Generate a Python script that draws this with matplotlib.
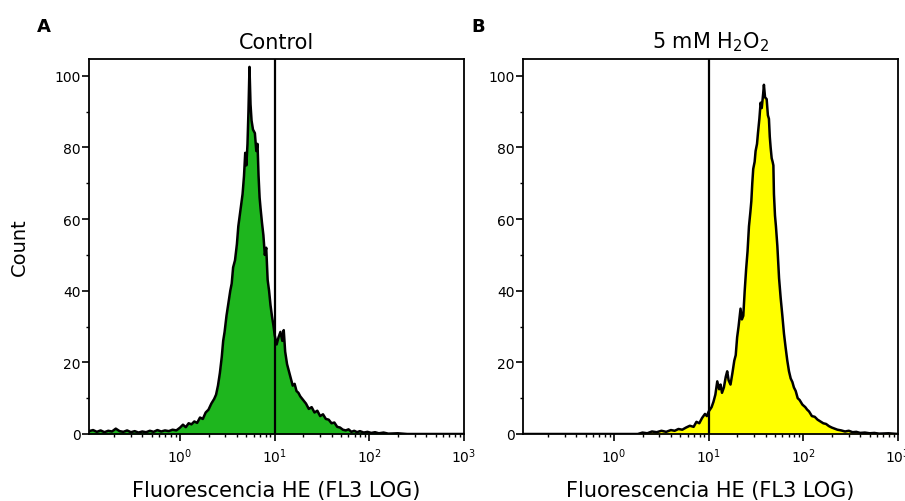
import matplotlib
matplotlib.use('Agg')
import matplotlib.pyplot as plt
from matplotlib.ticker import FixedLocator, NullFormatter
import numpy as np

# log10 of fluorescence and counts
ctrl_log = [-0.963, -0.92, -0.88, -0.84, -0.80, -0.76, -0.72, -0.68, -0.64, -0.60,
            -0.56, -0.52, -0.48, -0.44, -0.40, -0.36, -0.32, -0.28, -0.24, -0.20,
            -0.16, -0.12, -0.08, -0.04, 0.00, 0.03, 0.06, 0.09, 0.12, 0.15,
            0.18, 0.21, 0.24, 0.27, 0.30, 0.33, 0.36, 0.38, 0.40, 0.42,
            0.44, 0.455, 0.47, 0.49, 0.51, 0.53, 0.545, 0.56, 0.58, 0.60,
            0.615, 0.63, 0.645, 0.66, 0.675, 0.688, 0.70, 0.712, 0.722, 0.733,
            0.744, 0.755, 0.77, 0.79, 0.805, 0.818, 0.829, 0.84, 0.85, 0.865,
            0.88, 0.895, 0.91, 0.925, 0.94, 0.955, 0.97, 0.985, 1.00, 1.02,
            1.04, 1.06, 1.08, 1.095, 1.11, 1.13, 1.15, 1.17, 1.19, 1.21,
            1.23, 1.25, 1.27, 1.30, 1.33, 1.36, 1.39, 1.42, 1.45, 1.48,
            1.51, 1.54, 1.57, 1.60, 1.63, 1.66, 1.69, 1.72, 1.75, 1.78,
            1.81, 1.84, 1.87, 1.90, 1.94, 1.98, 2.02, 2.06, 2.10, 2.15,
            2.20, 2.30, 2.40, 3.0]
ctrl_count = [0.8, 1.1, 0.6, 1.0, 0.5, 0.9, 0.7, 1.5, 0.8, 0.6,
              1.0, 0.5, 0.8, 0.4, 0.7, 0.5, 0.9, 0.6, 1.1, 0.7,
              1.0, 0.8, 1.2, 1.0, 1.8, 2.6, 1.9, 3.0, 2.7, 3.5,
              3.1, 4.6, 4.2, 6.0, 6.8, 8.5, 9.8, 11.0, 13.5, 17.0,
              21.5, 26.0, 28.5, 33.0, 36.5, 40.0, 42.0, 46.5, 48.5, 53.0,
              58.0, 61.0, 64.0, 67.0, 72.0, 78.5, 75.0, 81.0, 90.0, 102.5,
              92.0, 87.5, 85.0, 84.0, 79.0, 81.0, 72.0, 66.0, 63.0, 59.0,
              55.5, 50.0, 52.0, 43.0, 40.0, 36.0, 33.0, 30.5, 27.5, 25.0,
              27.0, 28.5, 26.0, 29.0, 23.0, 19.5, 17.5, 15.5, 13.5, 14.0,
              12.0, 11.5, 10.5, 9.5, 8.5, 7.0, 7.5, 6.0, 6.5, 5.0,
              5.5, 4.2, 4.0, 3.0, 3.2, 2.0, 1.8, 1.2, 1.0, 1.3,
              0.6, 0.9, 0.5, 0.8, 0.4, 0.6, 0.3, 0.5, 0.2, 0.4,
              0.1, 0.2, 0.0, 0.0]

h2o2_log = [-0.963, 0.25, 0.30, 0.35, 0.40, 0.45, 0.50, 0.55, 0.60, 0.64,
            0.68, 0.72, 0.76, 0.80, 0.84, 0.87, 0.90, 0.93, 0.96, 0.98,
            1.00, 1.03, 1.05, 1.07, 1.09, 1.11, 1.125, 1.14, 1.16, 1.18,
            1.195, 1.21, 1.23, 1.25, 1.27, 1.285, 1.30, 1.315, 1.336, 1.35,
            1.365, 1.38, 1.395, 1.41, 1.425, 1.44, 1.45, 1.46, 1.47, 1.485,
            1.495, 1.51, 1.52, 1.535, 1.548, 1.56, 1.575, 1.583, 1.595, 1.612,
            1.625, 1.636, 1.645, 1.654, 1.665, 1.675, 1.683, 1.689, 1.70, 1.71,
            1.725, 1.743, 1.76, 1.778, 1.795, 1.813, 1.83, 1.848, 1.866, 1.884,
            1.90, 1.919, 1.94, 1.96, 1.99, 2.02, 2.04, 2.06, 2.09, 2.12,
            2.15, 2.18, 2.21, 2.24, 2.27, 2.30, 2.33, 2.36, 2.40, 2.44,
            2.48, 2.52, 2.56, 2.60, 2.65, 2.70, 2.75, 2.80, 2.90, 3.0]
h2o2_count = [0.0, 0.0, 0.4, 0.2, 0.7, 0.5, 0.9, 0.6, 1.1, 0.9,
              1.4, 1.2, 1.8, 2.3, 2.0, 3.4, 3.0, 4.5, 5.6, 5.0,
              6.3, 7.5, 9.0, 11.0, 14.7, 12.5, 13.8, 11.5, 13.0, 16.0,
              17.5, 15.0, 13.8, 17.0, 20.5, 22.0, 27.0, 30.0, 35.0, 32.0,
              33.0, 40.0, 46.0, 51.0, 58.0, 62.0, 65.0, 70.0, 74.0, 76.0,
              79.0, 81.0, 84.0, 88.0, 92.5, 91.0, 95.0, 97.5, 94.0, 93.5,
              89.0, 88.0, 83.0, 80.0, 77.0, 76.0, 75.0, 67.0, 61.0, 58.0,
              52.5, 43.5, 38.0, 33.0, 28.0, 24.0, 20.5, 17.5, 15.5, 14.5,
              13.0, 12.0, 10.0, 9.5, 8.2, 7.5, 6.8, 6.3, 5.0, 4.8,
              4.0, 3.5, 3.0, 2.8, 2.2, 1.8, 1.5, 1.2, 1.0, 0.7,
              0.9, 0.5, 0.6, 0.3, 0.4, 0.2, 0.3, 0.1, 0.2, 0.0]

panels = ['A', 'B']
titles = ['Control', r'5 mM H$_\mathregular{2}$O$_\mathregular{2}$']
fills = ['#1eb61e', '#ffff00']
gate = 10
xticks = [1, 10, 100, 1000]
xticklabels = [r'10$^0$', r'10$^1$', r'10$^2$', r'10$^3$']
yticks = [0, 20, 40, 60, 80, 100]

plt.rcParams['font.family'] = 'DejaVu Sans'
plt.rcParams['axes.linewidth'] = 1.3
plt.rcParams['xtick.major.size'] = 5
plt.rcParams['xtick.minor.size'] = 2.5
plt.rcParams['ytick.major.size'] = 5
plt.rcParams['ytick.minor.size'] = 2.5
plt.rcParams['xtick.major.width'] = 1.2
plt.rcParams['ytick.major.width'] = 1.2
plt.rcParams['xtick.minor.width'] = 1.0
plt.rcParams['ytick.minor.width'] = 1.0

fig = plt.figure(figsize=(9.05, 5.02), dpi=100)
axA = fig.add_axes([89 / 905, 67 / 502, 375 / 905, 375 / 502])
axB = fig.add_axes([523 / 905, 67 / 502, 375 / 905, 375 / 502])

data = [(ctrl_log, ctrl_count), (h2o2_log, h2o2_count)]
minor = [m * 10.0 ** e for e in range(-1, 3) for m in range(2, 10)]

for i, ax in enumerate([axA, axB]):
    lx, cnt = data[i]
    x = 10 ** np.array(lx)
    ax.fill_between(x, cnt, 0, color=fills[i], lw=0)
    ax.plot(x, cnt, color='black', lw=1.8)
    ax.axvline(gate, color='black', lw=1.6)
    ax.set_xscale('log')
    ax.set_xlim(10 ** -0.963, 10 ** 3.0)
    ax.set_ylim(0, 104.7)
    ax.xaxis.set_major_locator(FixedLocator(xticks))
    ax.set_xticklabels(xticklabels, fontsize=10)
    ax.xaxis.set_minor_locator(FixedLocator(minor))
    ax.xaxis.set_minor_formatter(NullFormatter())
    ax.set_yticks(yticks)
    ax.set_yticks([10, 30, 50, 70, 90], minor=True)
    ax.tick_params(axis='y', labelsize=10, pad=1)
    ax.tick_params(axis='x', pad=4)
    ax.set_title(titles[i], fontsize=15, pad=8)
    ax.set_xlabel('Fluorescencia HE (FL3 LOG)', fontsize=15, labelpad=11)
    ax.text(-0.12, 1.088, panels[i], transform=ax.transAxes, fontsize=13,
            fontweight='bold', ha='center', va='center')

axA.set_ylabel('Count', fontsize=14, labelpad=18)

plt.savefig('out.png', dpi=100)
